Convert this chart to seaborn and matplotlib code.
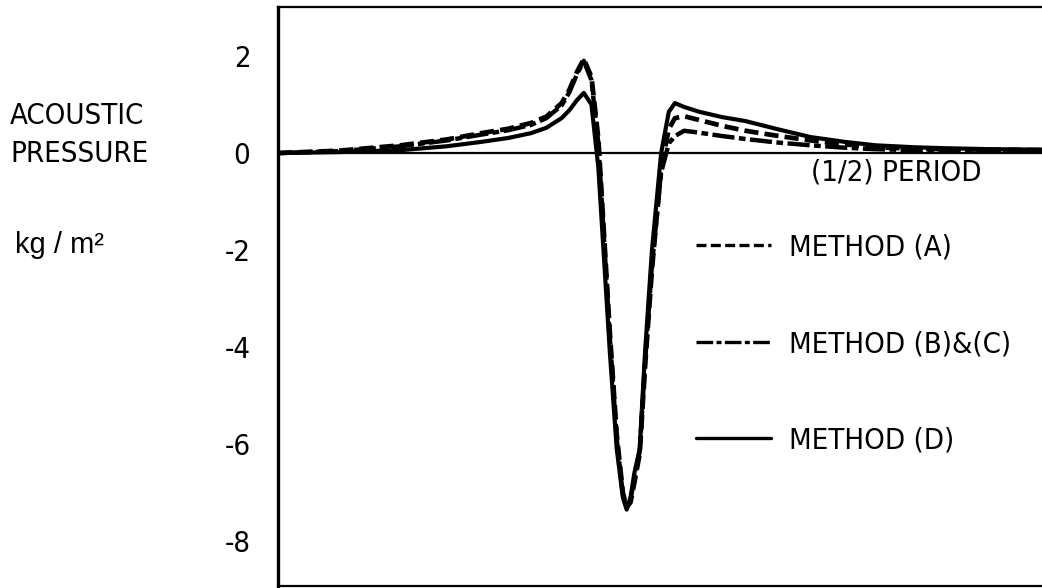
import matplotlib
matplotlib.use("Agg")
import matplotlib.pyplot as plt
import seaborn as sns
import pandas as pd

# time axis, 0..100 = (1/2) period
t = [0, 8, 16, 22, 26.5, 30, 33, 35, 37, 38, 39, 39.9, 40.9, 41.8, 43.3, 44.2,
     45, 45.5, 46, 46.5, 47.2, 47.9, 48.8, 50, 51, 51.8, 53, 55, 58, 61, 65,
     69.5, 74, 78, 83, 87, 93, 100]

# acoustic pressure, kg/m^2
p_a = [0, 0.05, 0.16, 0.28, 0.41, 0.50, 0.62, 0.75, 1.03, 1.30, 1.67, 1.94,
       1.57, 0.30, -3.7, -5.8, -7.0, -7.3, -7.2, -6.8, -6.2, -4.4, -2.4, -0.3,
       0.50, 0.72, 0.76, 0.68, 0.56, 0.46, 0.36, 0.26, 0.18, 0.12, 0.09, 0.08,
       0.07, 0.06]
p_bc = [0, 0.04, 0.14, 0.26, 0.38, 0.47, 0.58, 0.72, 0.98, 1.25, 1.62, 1.90,
        1.50, 0.20, -3.8, -5.9, -7.05, -7.32, -7.15, -6.7, -6.15, -4.3, -2.3,
        -0.4, 0.20, 0.35, 0.46, 0.42, 0.35, 0.29, 0.22, 0.16, 0.11, 0.08, 0.06,
        0.05, 0.05, 0.04]
p_d = [0, 0.02, 0.06, 0.14, 0.23, 0.31, 0.41, 0.52, 0.72, 0.88, 1.09, 1.24,
       1.00, -0.3, -4.1, -6.1, -7.1, -7.35, -7.1, -6.6, -6.1, -4.1, -2.0, 0.0,
       0.85, 1.03, 0.95, 0.85, 0.74, 0.66, 0.50, 0.33, 0.23, 0.16, 0.12, 0.10,
       0.08, 0.07]

labels = ["METHOD (A)", "METHOD (B)&(C)", "METHOD (D)"]
yticks = [2, 0, -2, -4, -6, -8]

df = pd.DataFrame({"t": t, "A": p_a, "BC": p_bc, "D": p_d})

sns.set_style("white")
plt.rcParams["font.family"] = ["DejaVu Sans"]
plt.rcParams["font.stretch"] = "condensed"
plt.rcParams["text.color"] = "black"
plt.rcParams["ytick.color"] = "black"
plt.rcParams["ytick.labelcolor"] = "black"

fig = plt.figure(figsize=(10.42, 5.88), dpi=100)
ax = fig.add_axes([0.267, 0.003, 0.735, 0.985])

sns.lineplot(data=df, x="t", y="A", color="black", lw=3.4,
             linestyle=(0, (3, 1.3)), label=labels[0], ax=ax)
sns.lineplot(data=df, x="t", y="BC", color="black", lw=3.2,
             linestyle=(0, (5, 1.0, 1.5, 1.0)), label=labels[1], ax=ax)
sns.lineplot(data=df, x="t", y="D", color="black", lw=3.0,
             label=labels[2], ax=ax)

ax.axhline(0, color="black", lw=1.6, zorder=0)

ax.set_xlim(0, 100)
ax.set_ylim(-8.93, 3.01)
ax.set_xticks([])
ax.set_yticks(yticks)
ax.set_yticklabels([str(v) for v in yticks])
ax.tick_params(axis="y", direction="in", length=14, width=2, pad=20,
               labelsize=21)
ax.set_xlabel("")
ax.set_ylabel("")

for s in ["left", "top", "bottom"]:
    ax.spines[s].set_color("black")
ax.spines["left"].set_linewidth(2.4)
ax.spines["top"].set_linewidth(1.6)
ax.spines["bottom"].set_linewidth(1.6)
ax.spines["right"].set_visible(False)

leg = ax.legend(loc="center left", bbox_to_anchor=(0.545, 0.418),
                frameon=False, fontsize=21, handlelength=2.6,
                handletextpad=0.6, labelspacing=2.35, borderpad=0,
                borderaxespad=0)
for line in leg.get_lines():
    line.set_linewidth(2.4)

ax.text(0.696, 0.715, "(1/2) PERIOD", transform=ax.transAxes,
        fontsize=21, va="center", ha="left")

fig.text(0.0096, 0.803, "ACOUSTIC", fontsize=21, va="center", ha="left")
fig.text(0.0096, 0.738, "PRESSURE", fontsize=21, va="center", ha="left")
fig.text(0.014, 0.570, "kg / m²", fontsize=21, va="baseline", ha="left",
         family=["Liberation Sans", "DejaVu Sans"], fontstretch="normal")

fig.savefig("out.png", dpi=100)
